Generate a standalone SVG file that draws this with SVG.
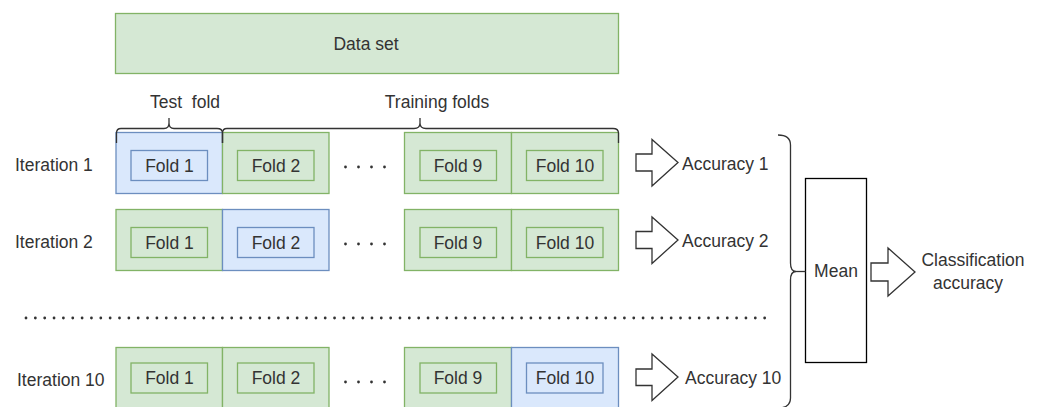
<svg xmlns="http://www.w3.org/2000/svg" width="1040" height="407" viewBox="0 0 1040 407">
<style>
  text { font-family: "Liberation Sans", Arial, sans-serif; font-size: 17.5px; fill: #333333; }
  .c { text-anchor: middle; }
  .g { fill: #d5e8d4; stroke: #82b366; stroke-width: 1.3; }
  .b { fill: #dae8fc; stroke: #6c8ebf; stroke-width: 1.3; }
  .arrow { fill: #ffffff; stroke: #333333; stroke-width: 1.3; stroke-linejoin: miter; }
  .brace { fill: none; stroke: #333333; stroke-width: 1.3; }
  .dots { fill: none; stroke: #333333; stroke-width: 2.8; stroke-linecap: round; }
</style>
<rect width="1040" height="407" fill="#ffffff"/>

<g id="dataset">
  <rect class="g" x="115.5" y="13.5" width="503" height="60"/>
  <text class="c" x="366" y="49.5">Data set</text>
</g>

<g id="labels">
  <text x="150" y="108" style="white-space:pre">Test  fold</text>
  <text class="c" x="437" y="108">Training folds</text>
</g>

<g id="iter1">
  <text x="15" y="171">Iteration 1</text>
  <rect class="b" x="116" y="132.5" width="106.5" height="61"/>
  <rect class="b" x="131" y="150.5" width="76.5" height="30"/>
  <text class="c" x="169.5" y="171.5">Fold 1</text>
  <rect class="g" x="222.5" y="132.5" width="106.5" height="61"/>
  <rect class="g" x="237.5" y="150.5" width="76.5" height="30"/>
  <text class="c" x="276" y="171.5">Fold 2</text>
  <rect class="g" x="404.5" y="132.5" width="107" height="61"/>
  <rect class="g" x="420" y="150.5" width="76.5" height="30"/>
  <text class="c" x="458" y="171.5">Fold 9</text>
  <rect class="g" x="511.5" y="132.5" width="107" height="61"/>
  <rect class="g" x="526.5" y="150.5" width="76.5" height="30"/>
  <text class="c" x="565" y="171.5">Fold 10</text>
  <text x="682" y="170">Accuracy 1</text>
</g>

<g id="iter2">
  <text x="15" y="248">Iteration 2</text>
  <rect class="g" x="116" y="209.5" width="106.5" height="61"/>
  <rect class="g" x="131" y="227.5" width="76.5" height="30"/>
  <text class="c" x="169.5" y="248.5">Fold 1</text>
  <rect class="b" x="222.5" y="209.5" width="106.5" height="61"/>
  <rect class="b" x="237.5" y="227.5" width="76.5" height="30"/>
  <text class="c" x="276" y="248.5">Fold 2</text>
  <rect class="g" x="404.5" y="209.5" width="107" height="61"/>
  <rect class="g" x="420" y="227.5" width="76.5" height="30"/>
  <text class="c" x="458" y="248.5">Fold 9</text>
  <rect class="g" x="511.5" y="209.5" width="107" height="61"/>
  <rect class="g" x="526.5" y="227.5" width="76.5" height="30"/>
  <text class="c" x="565" y="248.5">Fold 10</text>
  <text x="682" y="247">Accuracy 2</text>
</g>

<g id="iter10">
  <text x="17" y="386">Iteration 10</text>
  <rect class="g" x="116" y="347.5" width="106.5" height="61"/>
  <rect class="g" x="131" y="363" width="76.5" height="30"/>
  <text class="c" x="169.5" y="384">Fold 1</text>
  <rect class="g" x="222.5" y="347.5" width="106.5" height="61"/>
  <rect class="g" x="237.5" y="363" width="76.5" height="30"/>
  <text class="c" x="276" y="384">Fold 2</text>
  <rect class="g" x="404.5" y="347.5" width="107" height="61"/>
  <rect class="g" x="420" y="363" width="76.5" height="30"/>
  <text class="c" x="458" y="384">Fold 9</text>
  <rect class="b" x="511.5" y="347.5" width="107" height="61"/>
  <rect class="b" x="526.5" y="363" width="76.5" height="30"/>
  <text class="c" x="565" y="384">Fold 10</text>
  <text x="685" y="384">Accuracy 10</text>
</g>

<g id="mean">
  <rect x="805.5" y="178.5" width="61" height="184" fill="#ffffff" stroke="#000000" stroke-width="1.3"/>
  <text class="c" x="836" y="276.5">Mean</text>
</g>

<g id="result">
  <text class="c" x="973" y="266">Classification</text>
  <text class="c" x="968" y="289">accuracy</text>
</g>

<g id="connectors">
  <!-- braces -->
  <path class="brace" d="M116.5 143 L116.5 133 Q116.5 128.5 121 128.5 L164 128.5 Q169 128.5 169 123 L169 118 M169 123 Q169 128.5 174 128.5 L217 128.5 Q222.5 128.5 222.5 133 L222.5 143"/>
  <path class="brace" d="M222.5 143 L222.5 133 Q222.5 128.5 227 128.5 L414 128.5 Q420 128.5 420 123 L420 118 M420 123 Q420 128.5 426 128.5 L613 128.5 Q618.5 128.5 618.5 133 L618.5 143"/>
  <path class="brace" d="M778 135 Q790.5 135 790.5 145 L790.5 263 Q790.5 271.5 796 271.5 Q790.5 271.5 790.5 280 L790.5 398 Q790.5 408 778 408"/>
  <line class="brace" x1="796" y1="271.5" x2="805.5" y2="271.5"/>
  <!-- ellipses -->
  <line class="dots" x1="345.5" y1="167" x2="386" y2="167" stroke-dasharray="0 13"/>
  <line class="dots" x1="345.5" y1="244" x2="386" y2="244" stroke-dasharray="0 13"/>
  <line class="dots" x1="345.5" y1="382" x2="386" y2="382" stroke-dasharray="0 13"/>
  <line class="dots" x1="26" y1="318" x2="772" y2="318" stroke-dasharray="0 9.35"/>
  <!-- block arrows -->
  <path class="arrow" d="M636 154 L652 154 L652 139.5 L678 162.5 L652 186 L652 171 L636 171 Z"/>
  <path class="arrow" d="M636 231.5 L652 231.5 L652 217 L678 240 L652 263.5 L652 248.5 L636 248.5 Z"/>
  <path class="arrow" d="M636 369 L652 369 L652 354 L678 377 L652 400.5 L652 385.5 L636 385.5 Z"/>
  <path class="arrow" d="M871 263 L888 263 L888 248 L915 272 L888 296 L888 281 L871 281 Z"/>
</g>
</svg>
